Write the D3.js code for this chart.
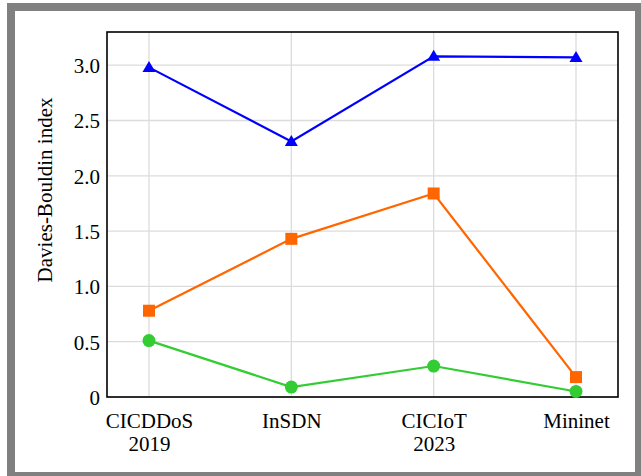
<!DOCTYPE html>
<html>
<head>
<meta charset="utf-8">
<script src="https://cdn.jsdelivr.net/npm/d3@7"></script>
<style>
  html, body { margin: 0; padding: 0; background: #fff; }
  svg { display: block; }
  text { font-family: "Liberation Serif", "DejaVu Serif", serif; fill: #000; }
</style>
</head>
<body>
<svg id="chart" width="641" height="476"></svg>
<script>
// Datasets along the x axis (multi-line labels split on "\n")
const categories = ["CICDDoS\n2019", "InSDN", "CICIoT\n2023", "Mininet"];

// Davies-Bouldin index per dataset, one array per method
const seriesBlue   = [2.98, 2.31, 3.08, 3.07];
const seriesOrange = [0.78, 1.43, 1.84, 0.18];
const seriesGreen  = [0.51, 0.09, 0.28, 0.05];

const yTicks = [0, 0.5, 1.0, 1.5, 2.0, 2.5, 3.0];
const yTickLabels = ["0", "0.5", "1.0", "1.5", "2.0", "2.5", "3.0"];
const yLabel = "Davies-Bouldin index";

const svg = d3.select("#chart");

// outer grey frame
svg.append("rect")
  .attr("x", 11).attr("y", 7)
  .attr("width", 628).attr("height", 469)
  .attr("fill", "#fff")
  .attr("stroke", "#808080")
  .attr("stroke-width", 8);

const plot = { left: 107, right: 618, top: 32, bottom: 397 };

const x = d3.scalePoint()
  .domain(categories)
  .range([plot.left, plot.right])
  .padding(0.295);

const y = d3.scaleLinear()
  .domain([0, 3.3])
  .range([plot.bottom, plot.top]);

const g = svg.append("g");

// grid lines
g.append("g").selectAll("line.h")
  .data(yTicks)
  .join("line")
  .attr("x1", plot.left).attr("x2", plot.right)
  .attr("y1", d => y(d)).attr("y2", d => y(d))
  .attr("stroke", "#dcdcdc").attr("stroke-width", 1.3);

g.append("g").selectAll("line.v")
  .data(categories)
  .join("line")
  .attr("x1", d => x(d)).attr("x2", d => x(d))
  .attr("y1", plot.top).attr("y2", plot.bottom)
  .attr("stroke", "#dcdcdc").attr("stroke-width", 1.3);

// y axis tick labels
const yAxis = d3.axisLeft(y)
  .tickValues(yTicks)
  .tickFormat((d, i) => yTickLabels[i])
  .tickSize(0)
  .tickPadding(7);
const yAxisG = svg.append("g")
  .attr("transform", `translate(${plot.left},0)`)
  .call(yAxis);
yAxisG.select(".domain").remove();
yAxisG.selectAll("text")
  .attr("font-size", 21)
  .attr("font-family", "Liberation Serif, serif")
  .attr("dy", "0.35em");

// x axis tick labels (two lines where needed)
const xAxis = d3.axisBottom(x).tickSize(0).tickFormat("");
const xAxisG = svg.append("g")
  .attr("transform", `translate(0,${plot.bottom})`)
  .call(xAxis);
xAxisG.select(".domain").remove();
xAxisG.selectAll(".tick").each(function(d) {
  const t = d3.select(this).append("text")
    .attr("text-anchor", "middle")
    .attr("font-size", 21)
    .attr("font-family", "Liberation Serif, serif")
    .attr("fill", "#000");
  d.split("\n").forEach((line, i) => {
    t.append("tspan").attr("x", 0).attr("y", 31 + i * 23).text(line);
  });
});

// y axis title
svg.append("text")
  .attr("transform", "translate(52,190) rotate(-90)")
  .attr("text-anchor", "middle")
  .attr("font-size", 21)
  .text(yLabel);

// series lines and markers
const line = d3.line()
  .x((d, i) => x(categories[i]))
  .y(d => y(d));

function drawSeries(values, color, marker) {
  svg.append("path")
    .datum(values)
    .attr("d", line)
    .attr("fill", "none")
    .attr("stroke", color)
    .attr("stroke-width", 2.2);
  const pts = svg.append("g").selectAll("path.m")
    .data(values)
    .join("path")
    .attr("transform", (d, i) => `translate(${x(categories[i])},${y(d)})`)
    .attr("fill", color);
  if (marker === "triangle") {
    pts.attr("d", "M0,-6.5L6.5,4.5L-6.5,4.5Z");
  } else if (marker === "square") {
    pts.attr("d", "M-6,-6H6V6H-6Z");
  } else {
    pts.attr("d", d3.symbol(d3.symbolCircle, Math.PI * 6.5 * 6.5)());
  }
}

drawSeries(seriesBlue, "#0000ff", "triangle");
drawSeries(seriesOrange, "#ff6600", "square");

// plot frame
svg.append("rect")
  .attr("x", plot.left).attr("y", plot.top)
  .attr("width", plot.right - plot.left)
  .attr("height", plot.bottom - plot.top)
  .attr("fill", "none")
  .attr("stroke", "#000")
  .attr("stroke-width", 1.6);

drawSeries(seriesGreen, "#33cc33", "circle");
</script>
</body>
</html>
